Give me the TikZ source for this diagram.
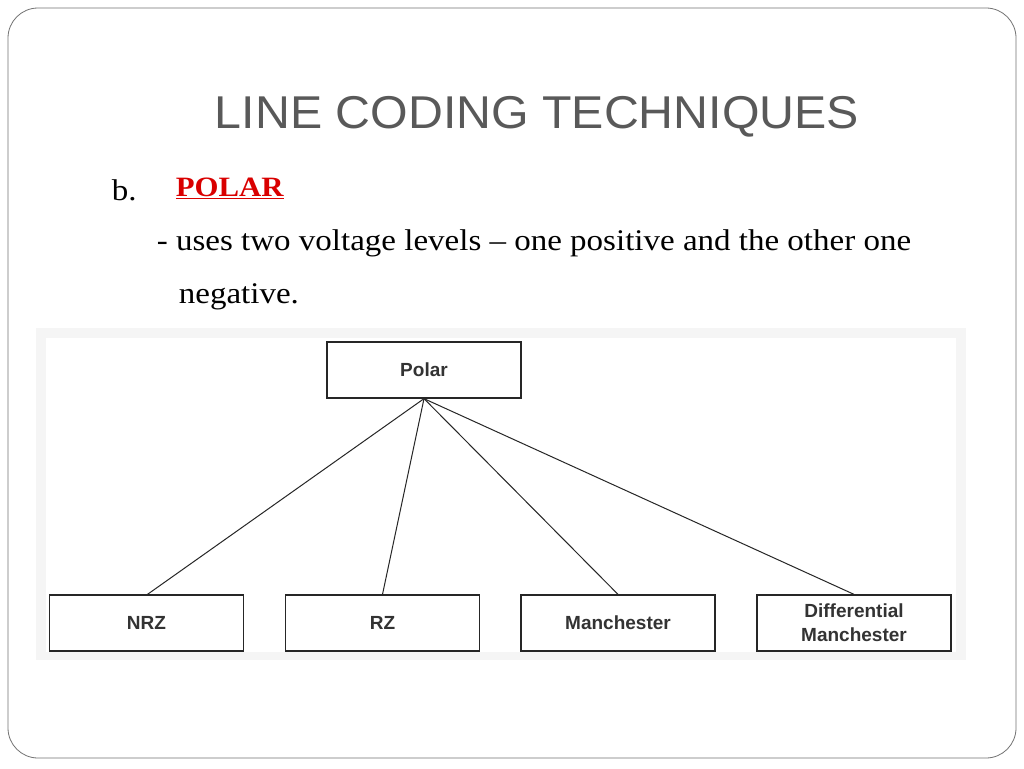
\documentclass[tikz,border=0pt]{standalone}
\usepackage{fontspec}
\setmainfont{Liberation Serif}
\setsansfont{Liberation Sans}
\begin{document}
\begin{tikzpicture}[x=1pt,y=-1pt,
  bx/.style={draw=black!85,line width=1.3pt,fill=white,minimum width=194pt,minimum height=56pt,inner sep=0pt,font=\sffamily\bfseries\fontsize{19}{21}\selectfont,text=black!80,align=center},
  ln/.style={line width=1pt,draw=black!85},
  tx/.style={anchor=west,font=\fontsize{30}{34}\selectfont,xscale=1.1}]
\useasboundingbox (0,0) rectangle (1024,768);
\fill[white] (0,0) rectangle (1024,768);
\draw[black!55,line width=0.8pt,rounded corners=30pt] (8,8) rectangle (1016,758);
\node[font=\sffamily\fontsize{46}{50}\selectfont,text=black!65,xscale=1.05] (title) at (537,117) {LINE CODING TECHNIQUES};
\node[tx] (b) at (108,190) {b.};
\node[tx,font=\bfseries\fontsize{28}{32}\selectfont,text=red!85!black] (polar) at (172,188) {\underline{POLAR}};
\node[tx] (l1) at (153,243) {- uses two voltage levels -- one positive and the other one};
\node[tx] (l2) at (175,297) {negative.};
\fill[black!4] (36,328) rectangle (966,660);
\fill[white] (46,338) rectangle (956,652);
\node[bx] (p) at (424,370) {Polar};
\node[bx] (n) at (146.5,623) {NRZ};
\node[bx] (r) at (382.5,623) {RZ};
\node[bx] (m) at (618,623) {Manchester};
\node[bx] (d) at (854,623) {Differential\\[3pt]Manchester};
\coordinate (o) at (p.south);
\draw[ln] (o) -- ([xshift=1pt]n.north);
\draw[ln] (o) -- (r.north);
\draw[ln] (o) -- (m.north);
\draw[ln] (o) -- (d.north);
\end{tikzpicture}
\end{document}
